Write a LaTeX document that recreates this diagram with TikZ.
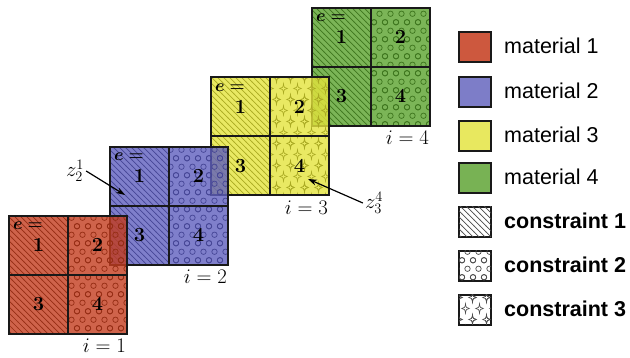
\documentclass[tikz,border=0pt]{standalone}
\usepackage{bm}
\usepackage{fontspec}
\newfontfamily\legfont{Liberation Sans}
\usetikzlibrary{patterns,arrows.meta}

% hatching lines (\\\)
\pgfdeclarepatternformonly{hatchx}{\pgfqpoint{-1pt}{-1pt}}{\pgfqpoint{7pt}{7pt}}{\pgfqpoint{6pt}{6pt}}{%
  \pgfsetlinewidth{0.7pt}%
  \pgfpathmoveto{\pgfqpoint{-0.2pt}{6.2pt}}%
  \pgfpathlineto{\pgfqpoint{6.2pt}{-0.2pt}}%
  \pgfusepath{stroke}}
% staggered circles
\pgfdeclarepatternformonly{circlesx}{\pgfqpoint{-4pt}{-4pt}}{\pgfqpoint{15pt}{21pt}}{\pgfqpoint{11pt}{17pt}}{%
  \pgfsetlinewidth{0.7pt}%
  \pgfpathcircle{\pgfqpoint{5.5pt}{4.25pt}}{2.7pt}%
  \pgfpathcircle{\pgfqpoint{0pt}{12.75pt}}{2.7pt}%
  \pgfpathcircle{\pgfqpoint{11pt}{12.75pt}}{2.7pt}%
  \pgfusepath{stroke}}
% four-pointed stars
\newcommand\mystar[2]{%
  \pgfpathmoveto{\pgfpointadd{\pgfqpoint{#1}{#2}}{\pgfqpoint{0pt}{4.8pt}}}%
  \pgfpathcurveto{\pgfpointadd{\pgfqpoint{#1}{#2}}{\pgfqpoint{0.4pt}{1.0pt}}}{\pgfpointadd{\pgfqpoint{#1}{#2}}{\pgfqpoint{1.0pt}{0.4pt}}}{\pgfpointadd{\pgfqpoint{#1}{#2}}{\pgfqpoint{3.8pt}{0pt}}}%
  \pgfpathcurveto{\pgfpointadd{\pgfqpoint{#1}{#2}}{\pgfqpoint{1.0pt}{-0.4pt}}}{\pgfpointadd{\pgfqpoint{#1}{#2}}{\pgfqpoint{0.4pt}{-1.0pt}}}{\pgfpointadd{\pgfqpoint{#1}{#2}}{\pgfqpoint{0pt}{-4.8pt}}}%
  \pgfpathcurveto{\pgfpointadd{\pgfqpoint{#1}{#2}}{\pgfqpoint{-0.4pt}{-1.0pt}}}{\pgfpointadd{\pgfqpoint{#1}{#2}}{\pgfqpoint{-1.0pt}{-0.4pt}}}{\pgfpointadd{\pgfqpoint{#1}{#2}}{\pgfqpoint{-3.8pt}{0pt}}}%
  \pgfpathcurveto{\pgfpointadd{\pgfqpoint{#1}{#2}}{\pgfqpoint{-1.0pt}{0.4pt}}}{\pgfpointadd{\pgfqpoint{#1}{#2}}{\pgfqpoint{-0.4pt}{1.0pt}}}{\pgfpointadd{\pgfqpoint{#1}{#2}}{\pgfqpoint{0pt}{4.8pt}}}%
  \pgfpathclose}
\pgfdeclarepatternformonly{starsx}{\pgfqpoint{-5pt}{-1pt}}{\pgfqpoint{19pt}{23pt}}{\pgfqpoint{14pt}{22pt}}{%
  \pgfsetlinewidth{0.6pt}%
  \mystar{3.5pt}{5.5pt}%
  \mystar{10.5pt}{16.5pt}%
  \mystar{-3.5pt}{16.5pt}%
  \pgfusepath{stroke}}

% legend colours
\definecolor{legA}{RGB}{205,88,62}
\definecolor{legB}{RGB}{125,125,200}
\definecolor{legC}{RGB}{232,232,95}
\definecolor{legD}{RGB}{120,178,84}
% cell colours (drawn at 80% opacity)
\definecolor{cellA}{RGB}{195,60,30}
\definecolor{cellB}{RGB}{95,95,190}
\definecolor{cellC}{RGB}{228,228,60}
\definecolor{cellD}{RGB}{90,162,45}
\definecolor{patA}{RGB}{150,45,20}
\definecolor{patB}{RGB}{70,70,150}
\definecolor{patC}{RGB}{170,170,35}
\definecolor{patD}{RGB}{62,118,30}

\tikzset{
  cellbox/.style={draw=black!90, line width=1.8pt, minimum width=59pt, minimum height=59pt,
    inner sep=0pt, anchor=north west, font=\fontsize{20}{22}\selectfont\bfseries,
    fill opacity=0.8, text opacity=1},
  matA/.style={preaction={fill=cellA, fill opacity=0.8}, pattern color=patA},
  matB/.style={preaction={fill=cellB, fill opacity=0.8}, pattern color=patB},
  matC/.style={preaction={fill=cellC, fill opacity=0.8}, pattern color=patC},
  matD/.style={preaction={fill=cellD, fill opacity=0.8}, pattern color=patD},
  elab/.style={anchor=north west, inner sep=0pt, font=\fontsize{17}{19}\selectfont},
  ilab/.style={anchor=north east, inner sep=0pt, font=\fontsize{21}{24}\selectfont},
  zlab/.style={inner sep=2pt, font=\fontsize{20}{22}\selectfont},
  arr/.style={line width=1.2pt, -{Stealth[length=9pt,width=6pt]}},
  legbox/.style={draw=black!90, line width=1.8pt, minimum width=32pt, minimum height=30pt, inner sep=0pt},
  legtext/.style={anchor=west, inner sep=0pt, font=\legfont\fontsize{21.5}{24}\selectfont},
  legbold/.style={anchor=west, inner sep=0pt, font=\legfont\bfseries\fontsize{21.5}{24}\selectfont},
}
\newcommand{\elabtext}{$\bm{e}\mathrel{\bm{=}}$}

\begin{document}
\begin{tikzpicture}[x=1pt,y=-1pt]
\useasboundingbox (0,0) rectangle (630,358);

% square i=4
\node[cellbox, matD, pattern=hatchx] (s4a) at (311,7) {\raisebox{-3pt}{1}};
\node[cellbox, matD, pattern=circlesx] (s4b) at (370,7) {\raisebox{-3pt}{2}};
\node[cellbox, matD, pattern=hatchx] (s4c) at (311,66) {3};
\node[cellbox, matD, pattern=circlesx] (s4d) at (370,66) {4};
\node[elab] (e4) at (316,14) {\elabtext};
\node[ilab] (i4) at (429,131) {$i=4$};

% square i=3
\node[cellbox, matC, pattern=hatchx] (s3a) at (210,76.5) {\raisebox{-3pt}{1}};
\node[cellbox, matC, pattern=starsx] (s3b) at (269,76.5) {\raisebox{-3pt}{2}};
\node[cellbox, matC, pattern=hatchx] (s3c) at (210,135.5) {3};
\node[cellbox, matC, pattern=starsx] (s3d) at (269,135.5) {4};
\node[elab] (e3) at (215,83.5) {\elabtext};
\node[ilab] (i3) at (328,200.5) {$i=3$};

% square i=2
\node[cellbox, matB, pattern=hatchx] (s2a) at (109,146) {\raisebox{-3pt}{1}};
\node[cellbox, matB, pattern=circlesx] (s2b) at (168,146) {\raisebox{-3pt}{2}};
\node[cellbox, matB, pattern=hatchx] (s2c) at (109,205) {3};
\node[cellbox, matB, pattern=circlesx] (s2d) at (168,205) {4};
\node[elab] (e2) at (114,153) {\elabtext};
\node[ilab] (i2) at (227,270) {$i=2$};

% square i=1
\node[cellbox, matA, pattern=hatchx] (s1a) at (8,215) {\raisebox{-3pt}{1}};
\node[cellbox, matA, pattern=circlesx] (s1b) at (67,215) {\raisebox{-3pt}{2}};
\node[cellbox, matA, pattern=hatchx] (s1c) at (8,274) {3};
\node[cellbox, matA, pattern=circlesx] (s1d) at (67,274) {4};
\node[elab] (e1) at (13,222) {\elabtext};
\node[ilab] (i1) at (126,339) {$i=1$};

% annotations
\node[zlab] (z21) at (75,171) {$z_2^1$};
\coordinate (p21) at (125,195);
\draw[arr] (z21.east) -- (p21);

\node[zlab] (z34) at (374,203) {$z_3^4$};
\coordinate (p34) at (308,179);
\draw[arr] (z34.west) -- (p34);

% legend
\node[legbox, fill=legA] (lb1) at (475,47) {};
\node[legtext] (lt1) at (504,45.5) {material 1};
\node[legbox, fill=legB] (lb2) at (475,92) {};
\node[legtext] (lt2) at (504,90.5) {material 2};
\node[legbox, fill=legC] (lb3) at (475,136) {};
\node[legtext] (lt3) at (504,134.5) {material 3};
\node[legbox, fill=legD] (lb4) at (475,178) {};
\node[legtext] (lt4) at (504,176.5) {material 4};

\node[legbox, fill=white, postaction={pattern=hatchx, pattern color=black!70}] (lb5) at (475,222) {};
\node[legbold] (lt5) at (504,220.5) {constraint 1};
\node[legbox, fill=white, postaction={pattern=circlesx, pattern color=black!70}] (lb6) at (475,266) {};
\node[legbold] (lt6) at (504,264.5) {constraint 2};
\node[legbox, fill=white, postaction={pattern=starsx, pattern color=black!70}] (lb7) at (475,310) {};
\node[legbold] (lt7) at (504,308.5) {constraint 3};
\end{tikzpicture}
\end{document}
